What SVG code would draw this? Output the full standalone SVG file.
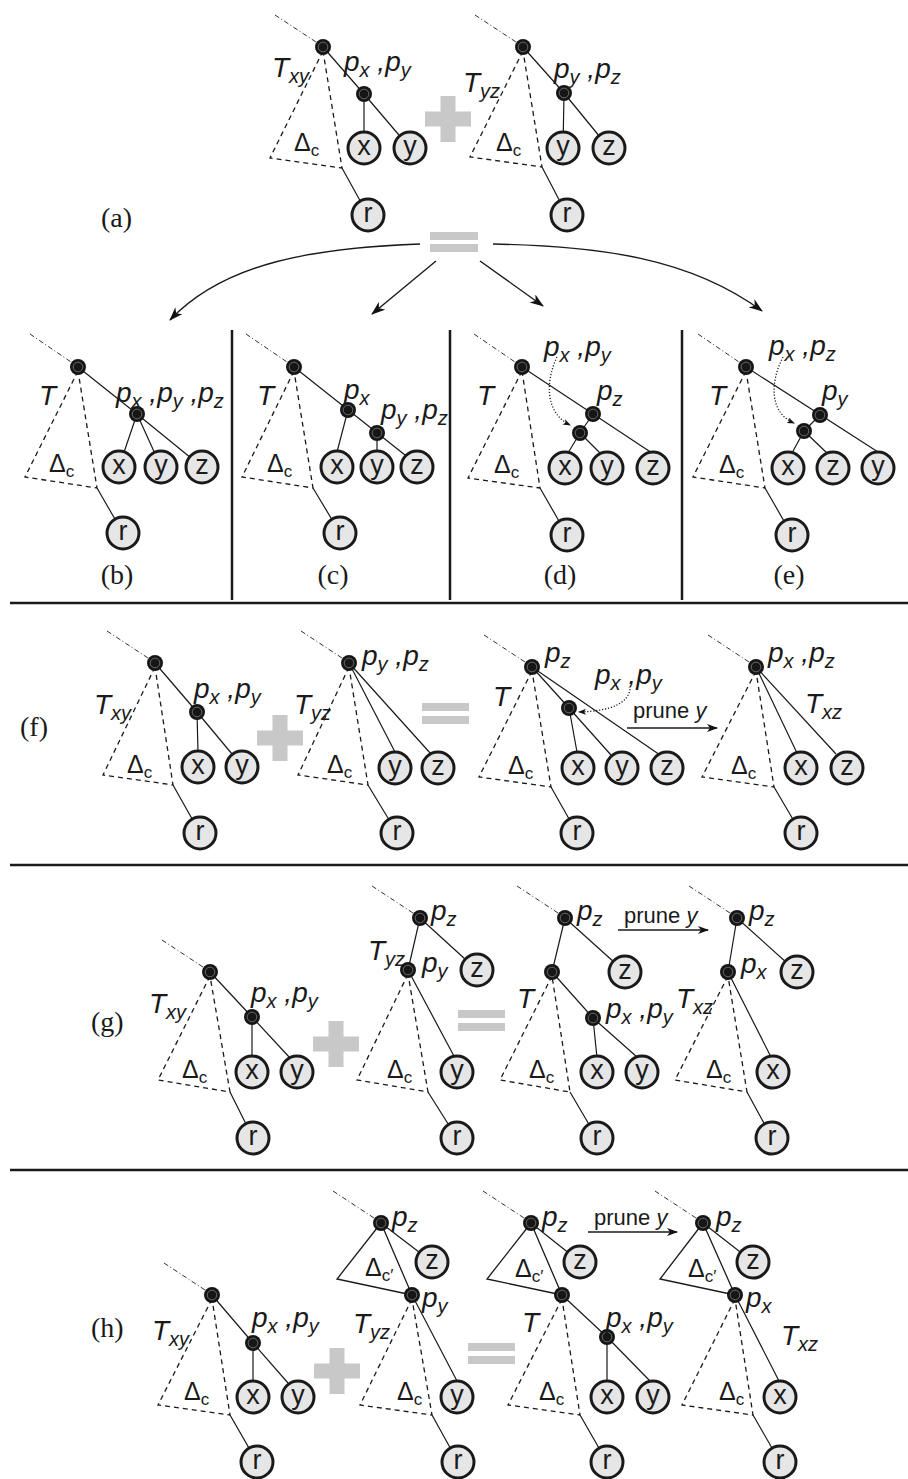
<svg xmlns="http://www.w3.org/2000/svg" xmlns:xlink="http://www.w3.org/1999/xlink" width="908" height="1479" viewBox="0 0 908 1479">
<style>
.leaf circle{fill:#e6e6e6;stroke:#1a1a1a;stroke-width:3}
.leaf text{font-family:"Liberation Sans",Arial,sans-serif;font-size:27px;text-anchor:middle;fill:#1a1a1a}
.e{fill:none;stroke:#1a1a1a;stroke-width:1.2}
.ds{fill:none;stroke:#1a1a1a;stroke-width:1.3;stroke-dasharray:5 4}
.dd{fill:none;stroke:#1a1a1a;stroke-width:0.9;stroke-dasharray:5 2.5 1 2.5}
.dt{fill:none;stroke:#1a1a1a;stroke-width:1.3;stroke-dasharray:1.2 1.8}
.tri{fill:none;stroke:#1a1a1a;stroke-width:1.3}
.ar{fill:none;stroke:#1a1a1a;stroke-width:1.4}
.sep{stroke:#1a1a1a;stroke-width:2.5;fill:none}
.op{fill:#c8c8c8}
.it{font-family:"Liberation Sans",Arial,sans-serif;font-style:italic;font-size:28px;fill:#1a1a1a}
.s{font-size:20px}
.dl{font-family:"Liberation Sans",Arial,sans-serif;font-size:25px;fill:#1a1a1a}
.dc{font-size:17px}
.pl{font-family:"Liberation Serif","Times New Roman",serif;font-size:28px;fill:#1a1a1a}
.plc{text-anchor:middle}
.pr{font-family:"Liberation Sans",Arial,sans-serif;font-size:22px;fill:#1a1a1a}
</style>
<defs>
<marker id="ah" markerUnits="userSpaceOnUse" viewBox="0 0 14 10" markerWidth="14" markerHeight="10" refX="13" refY="5" orient="auto"><path d="M0,0 L14,5 L0,10 L4,5 Z" fill="#111"/></marker>
<marker id="ahs" markerUnits="userSpaceOnUse" viewBox="0 0 11 8" markerWidth="11" markerHeight="8" refX="10" refY="4" orient="auto"><path d="M0,0 L11,4 L0,8 L3,4 Z" fill="#111"/></marker>
<marker id="ahd" markerUnits="userSpaceOnUse" viewBox="0 0 8 6" markerWidth="8" markerHeight="6" refX="7" refY="3" orient="auto"><path d="M0,0 L8,3 L0,6 L2,3 Z" fill="#111"/></marker>
<g id="bn"><circle r="8" fill="#161616"/><circle r="4.8" fill="none" stroke="#8a8a8a" stroke-width="0.7"/></g>
</defs>
<rect width="908" height="1479" fill="#ffffff"/>

<g id="separators">
<path class="sep" d="M232,330 V600 M450,330 V600 M682,330 V600 M10,603 H908 M10,865 H908 M10,1170 H908"/>
</g>

<g id="connectors">
<!-- a1 -->
<path class="dd" d="M275,15 L316,42"/>
<path class="e" d="M323,47 L364,94 M364,94 L364,148 M364,94 L410,148 M342,168 L368,215"/>
<path class="ds" d="M323,51 L270,158 L342,168 Z"/>
<!-- a2 -->
<path class="dd" d="M475,15 L516,42"/>
<path class="e" d="M523,47 L564,93 M564,93 L563,148 M564,93 L609,148 M542,167 L567,215"/>
<path class="ds" d="M523,51 L470,157 L542,167 Z"/>
<!-- a arrows -->
<path class="ar" marker-end="url(#ah)" d="M420,244 C315,248 225,262 170,320"/>
<path class="ar" marker-end="url(#ah)" d="M436,261 L372,314"/>
<path class="ar" marker-end="url(#ah)" d="M480,261 L543,306"/>
<path class="ar" marker-end="url(#ah)" d="M493,244 C600,246 690,258 762,311"/>
<!-- b -->
<path class="dd" d="M30,334 L71,362"/>
<path class="e" d="M78,367 L137,414 M137,414 L119,467 M137,414 L161,467 M137,414 L202,467 M97,488 L123,533"/>
<path class="ds" d="M78,371 L25,477 L97,488 Z"/>
<!-- c -->
<path class="dd" d="M246,334 L287,362"/>
<path class="e" d="M294,367 L405,455 M348,410 L337,452 M377,433 L377,452 M313,488 L340,533"/>
<path class="ds" d="M294,371 L242,477 L313,488 Z"/>
<!-- d -->
<path class="dd" d="M474,334 L515,362"/>
<path class="e" d="M522,367 L652,453 M593,414 L580,433 M580,433 L568,453 M580,433 L600,453 M540,488 L567,535"/>
<path class="ds" d="M522,371 L468,478 L540,488 Z"/>
<path class="dt" marker-end="url(#ahd)" d="M557,357 C546,380 544,412 570,425"/>
<!-- e -->
<path class="dd" d="M698,334 L739,362"/>
<path class="e" d="M746,367 L878,452 M820,415 L804,431 M804,431 L792,453 M804,431 L828,454 M765,488 L792,535"/>
<path class="ds" d="M746,371 L693,477 L765,488 Z"/>
<path class="dt" marker-end="url(#ahd)" d="M783,357 C771,380 768,412 794,423"/>
<!-- f1 -->
<path class="dd" d="M107,631 L148,658"/>
<path class="e" d="M155,663 L197,712 M197,712 L198,752 M197,712 L232,754 M173,785 L200,833"/>
<path class="ds" d="M155,667 L103,775 L173,785 Z"/>
<!-- f2 -->
<path class="dd" d="M301,631 L342,658"/>
<path class="e" d="M349,663 L395,752 M349,663 L431,754 M368,785 L397,833"/>
<path class="ds" d="M349,667 L298,775 L368,785 Z"/>
<!-- f3 -->
<path class="dd" d="M484,635 L525,662"/>
<path class="e" d="M532,667 L569,708 M532,667 L660,755 M569,708 L577,752 M569,708 L611,755 M551,787 L577,833"/>
<path class="ds" d="M532,671 L479,777 L551,787 Z"/>
<path class="dt" marker-end="url(#ahd)" d="M630,689 C628,703 612,711 579,712"/>
<path class="ar" marker-end="url(#ahs)" d="M627,728 L717,728"/>
<!-- f4 -->
<path class="dd" d="M708,635 L749,662"/>
<path class="e" d="M756,667 L797,753 M756,667 L836,754 M774,787 L801,833"/>
<path class="ds" d="M756,671 L702,777 L774,787 Z"/>
<!-- g1 -->
<path class="dd" d="M162,940 L203,967"/>
<path class="e" d="M210,972 L252,1017 M252,1017 L252,1057 M252,1017 L290,1058 M230,1092 L253,1138"/>
<path class="ds" d="M210,976 L158,1080 L230,1092 Z"/>
<!-- g2 -->
<path class="dd" d="M372,886 L413,913"/>
<path class="e" d="M420,918 L477,970 M420,918 L408,970 M408,970 L455,1058 M428,1092 L457,1138"/>
<path class="ds" d="M408,974 L357,1080 L428,1092 Z"/>
<!-- g3 -->
<path class="dd" d="M517,886 L558,913"/>
<path class="e" d="M565,918 L625,972 M565,918 L552,972 M552,972 L593,1018 M593,1018 L597,1058 M593,1018 L637,1057 M570,1092 L597,1138"/>
<path class="ds" d="M552,976 L500,1080 L570,1092 Z"/>
<path class="ar" marker-end="url(#ahs)" d="M618,930 L708,930"/>
<!-- g4 -->
<path class="dd" d="M689,886 L730,913"/>
<path class="e" d="M737,918 L797,972 M737,918 L728,972 M728,972 L771,1057 M747,1092 L772,1138"/>
<path class="ds" d="M728,976 L675,1080 L747,1092 Z"/>
<!-- h1 -->
<path class="dd" d="M164,1263 L205,1290"/>
<path class="e" d="M212,1295 L253,1343 M253,1343 L253,1381 M253,1343 L288,1383 M230,1415 L257,1462"/>
<path class="ds" d="M212,1299 L158,1405 L230,1415 Z"/>
<!-- h2 -->
<path class="dd" d="M333,1191 L374,1218"/>
<path class="e" d="M381,1223 L432,1262 M412,1295 L457,1381 M432,1415 L458,1462"/>
<path class="tri" d="M381,1223 L337,1279 L412,1295 Z"/>
<path class="ds" d="M412,1299 L360,1405 L432,1415 Z"/>
<!-- h3 -->
<path class="dd" d="M483,1191 L524,1218"/>
<path class="e" d="M531,1223 L580,1262 M562,1295 L607,1337 M607,1337 L607,1381 M607,1337 L650,1381 M580,1415 L607,1462"/>
<path class="tri" d="M531,1223 L487,1279 L562,1295 Z"/>
<path class="ds" d="M562,1299 L508,1405 L580,1415 Z"/>
<path class="ar" marker-end="url(#ahs)" d="M588,1232 L677,1232"/>
<!-- h4 -->
<path class="dd" d="M655,1191 L696,1218"/>
<path class="e" d="M703,1223 L753,1262 M735,1295 L779,1381 M753,1415 L780,1462"/>
<path class="tri" d="M703,1223 L660,1279 L735,1295 Z"/>
<path class="ds" d="M735,1299 L682,1405 L753,1415 Z"/>
</g>

<g id="operators">
<g id="plus-a" class="op"><rect x="440.5" y="96" width="15" height="46"/><rect x="425" y="111.5" width="46" height="15"/></g>
<g id="eq-a" class="op"><rect x="430" y="232" width="48" height="8"/><rect x="430" y="244" width="48" height="8"/></g>
<g id="plus-f" class="op"><rect x="272.5" y="715" width="15" height="46"/><rect x="257" y="730.5" width="46" height="15"/></g>
<g id="eq-f" class="op"><rect x="422" y="703" width="47" height="8"/><rect x="422" y="716" width="47" height="8"/></g>
<g id="plus-g" class="op"><rect x="328.5" y="1021" width="15" height="46"/><rect x="313" y="1036.5" width="46" height="15"/></g>
<g id="eq-g" class="op"><rect x="458" y="1010" width="47" height="8"/><rect x="458" y="1023" width="47" height="8"/></g>
<g id="plus-h" class="op"><rect x="329.5" y="1348" width="15" height="46"/><rect x="314" y="1363.5" width="46" height="15"/></g>
<g id="eq-h" class="op"><rect x="468" y="1343" width="47" height="8"/><rect x="468" y="1356" width="47" height="8"/></g>
</g>

<!-- ===== panel a ===== -->
<g id="panel-a">
<g id="a1-root"><use xlink:href="#bn" x="323" y="47"/></g>
<g id="a1-pxy"><use xlink:href="#bn" x="364" y="94"/></g>
<g id="a1-x" class="leaf"><circle cx="364" cy="148" r="16"/><text x="364" y="155">x</text></g>
<g id="a1-y" class="leaf"><circle cx="410" cy="148" r="16"/><text x="410" y="155">y</text></g>
<g id="a1-r" class="leaf"><circle cx="368" cy="215" r="16"/><text x="368" y="222">r</text></g>
<g id="a2-root"><use xlink:href="#bn" x="523" y="47"/></g>
<g id="a2-pyz"><use xlink:href="#bn" x="564" y="93"/></g>
<g id="a2-y" class="leaf"><circle cx="563" cy="148" r="16"/><text x="563" y="155">y</text></g>
<g id="a2-z" class="leaf"><circle cx="609" cy="148" r="16"/><text x="609" y="155">z</text></g>
<g id="a2-r" class="leaf"><circle cx="567" cy="215" r="16"/><text x="567" y="222">r</text></g>
<text class="it" x="272" y="77">T<tspan class="s" dy="6">xy</tspan></text>
<text class="it" x="344" y="71">p<tspan class="s" dy="6">x</tspan><tspan dy="-6"> ,p</tspan><tspan class="s" dy="6">y</tspan></text>
<text class="it" x="463" y="92">T<tspan class="s" dy="6">yz</tspan></text>
<text class="it" x="554" y="78">p<tspan class="s" dy="6">y</tspan><tspan dy="-6"> ,p</tspan><tspan class="s" dy="6">z</tspan></text>
<text class="dl" x="294" y="151">Δ<tspan class="dc" dy="5">c</tspan></text>
<text class="dl" x="496" y="151">Δ<tspan class="dc" dy="5">c</tspan></text>
<text class="pl" x="101" y="227">(a)</text>
</g>

<!-- ===== panel b ===== -->
<g id="panel-b">
<g id="b-root"><use xlink:href="#bn" x="78" y="367"/></g>
<g id="b-pxyz"><use xlink:href="#bn" x="137" y="414"/></g>
<g id="b-x" class="leaf"><circle cx="119" cy="467" r="16"/><text x="119" y="474">x</text></g>
<g id="b-y" class="leaf"><circle cx="161" cy="467" r="16"/><text x="161" y="474">y</text></g>
<g id="b-z" class="leaf"><circle cx="202" cy="467" r="16"/><text x="202" y="474">z</text></g>
<g id="b-r" class="leaf"><circle cx="123" cy="533" r="16"/><text x="123" y="540">r</text></g>
<text class="it" x="39" y="405">T</text>
<text class="it" x="116" y="402">p<tspan class="s" dy="6">x</tspan><tspan dy="-6"> ,p</tspan><tspan class="s" dy="6">y</tspan><tspan dy="-6"> ,p</tspan><tspan class="s" dy="6">z</tspan></text>
<text class="dl" x="49" y="472">Δ<tspan class="dc" dy="5">c</tspan></text>
<text class="pl plc" x="117" y="584">(b)</text>
</g>

<!-- ===== panel c ===== -->
<g id="panel-c">
<g id="c-root"><use xlink:href="#bn" x="294" y="367"/></g>
<g id="c-px"><use xlink:href="#bn" x="348" y="410"/></g>
<g id="c-pyz"><use xlink:href="#bn" x="377" y="433"/></g>
<g id="c-x" class="leaf"><circle cx="337" cy="467" r="16"/><text x="337" y="474">x</text></g>
<g id="c-y" class="leaf"><circle cx="377" cy="467" r="16"/><text x="377" y="474">y</text></g>
<g id="c-z" class="leaf"><circle cx="417" cy="467" r="16"/><text x="417" y="474">z</text></g>
<g id="c-r" class="leaf"><circle cx="340" cy="533" r="16"/><text x="340" y="540">r</text></g>
<text class="it" x="257" y="405">T</text>
<text class="it" x="344" y="399">p<tspan class="s" dy="6">x</tspan></text>
<text class="it" x="381" y="419">p<tspan class="s" dy="6">y</tspan><tspan dy="-6"> ,p</tspan><tspan class="s" dy="6">z</tspan></text>
<text class="dl" x="267" y="472">Δ<tspan class="dc" dy="5">c</tspan></text>
<text class="pl plc" x="333" y="584">(c)</text>
</g>

<!-- ===== panel d ===== -->
<g id="panel-d">
<g id="d-root"><use xlink:href="#bn" x="522" y="367"/></g>
<g id="d-pz"><use xlink:href="#bn" x="593" y="414"/></g>
<g id="d-pxy"><use xlink:href="#bn" x="580" y="433"/></g>
<g id="d-x" class="leaf"><circle cx="565" cy="468" r="16"/><text x="565" y="475">x</text></g>
<g id="d-y" class="leaf"><circle cx="607" cy="468" r="16"/><text x="607" y="475">y</text></g>
<g id="d-z" class="leaf"><circle cx="653" cy="468" r="16"/><text x="653" y="475">z</text></g>
<g id="d-r" class="leaf"><circle cx="567" cy="535" r="16"/><text x="567" y="542">r</text></g>
<text class="it" x="477" y="405">T</text>
<text class="it" x="544" y="356">p<tspan class="s" dy="6">x</tspan><tspan dy="-6"> ,p</tspan><tspan class="s" dy="6">y</tspan></text>
<text class="it" x="597" y="400">p<tspan class="s" dy="6">z</tspan></text>
<text class="dl" x="494" y="473">Δ<tspan class="dc" dy="5">c</tspan></text>
<text class="pl plc" x="560" y="584">(d)</text>
</g>

<!-- ===== panel e ===== -->
<g id="panel-e">
<g id="e-root"><use xlink:href="#bn" x="746" y="367"/></g>
<g id="e-py"><use xlink:href="#bn" x="820" y="415"/></g>
<g id="e-pxz"><use xlink:href="#bn" x="804" y="431"/></g>
<g id="e-x" class="leaf"><circle cx="788" cy="468" r="16"/><text x="788" y="475">x</text></g>
<g id="e-z" class="leaf"><circle cx="833" cy="468" r="16"/><text x="833" y="475">z</text></g>
<g id="e-y" class="leaf"><circle cx="878" cy="468" r="16"/><text x="878" y="475">y</text></g>
<g id="e-r" class="leaf"><circle cx="792" cy="535" r="16"/><text x="792" y="542">r</text></g>
<text class="it" x="709" y="405">T</text>
<text class="it" x="769" y="355">p<tspan class="s" dy="6">x</tspan><tspan dy="-6"> ,p</tspan><tspan class="s" dy="6">z</tspan></text>
<text class="it" x="822" y="400">p<tspan class="s" dy="6">y</tspan></text>
<text class="dl" x="719" y="473">Δ<tspan class="dc" dy="5">c</tspan></text>
<text class="pl plc" x="789" y="584">(e)</text>
</g>

<!-- ===== panel f ===== -->
<g id="panel-f">
<text class="pl" x="20" y="736">(f)</text>
<g id="f1-root"><use xlink:href="#bn" x="155" y="663"/></g>
<g id="f1-pxy"><use xlink:href="#bn" x="197" y="712"/></g>
<g id="f1-x" class="leaf"><circle cx="198" cy="767" r="16"/><text x="198" y="774">x</text></g>
<g id="f1-y" class="leaf"><circle cx="242" cy="767" r="16"/><text x="242" y="774">y</text></g>
<g id="f1-r" class="leaf"><circle cx="200" cy="833" r="16"/><text x="200" y="840">r</text></g>
<text class="it" x="94" y="714">T<tspan class="s" dy="6">xy</tspan></text>
<text class="it" x="194" y="698">p<tspan class="s" dy="6">x</tspan><tspan dy="-6"> ,p</tspan><tspan class="s" dy="6">y</tspan></text>
<text class="dl" x="127" y="773">Δ<tspan class="dc" dy="5">c</tspan></text>

<g id="f2-root"><use xlink:href="#bn" x="349" y="663"/></g>
<g id="f2-y" class="leaf"><circle cx="395" cy="768" r="16"/><text x="395" y="775">y</text></g>
<g id="f2-z" class="leaf"><circle cx="438" cy="768" r="16"/><text x="438" y="775">z</text></g>
<g id="f2-r" class="leaf"><circle cx="397" cy="833" r="16"/><text x="397" y="840">r</text></g>
<text class="it" x="294" y="714">T<tspan class="s" dy="6">yz</tspan></text>
<text class="it" x="362" y="665">p<tspan class="s" dy="6">y</tspan><tspan dy="-6"> ,p</tspan><tspan class="s" dy="6">z</tspan></text>
<text class="dl" x="327" y="773">Δ<tspan class="dc" dy="5">c</tspan></text>

<g id="f3-root"><use xlink:href="#bn" x="532" y="667"/></g>
<g id="f3-pxy"><use xlink:href="#bn" x="569" y="708"/></g>
<g id="f3-x" class="leaf"><circle cx="578" cy="768" r="16"/><text x="578" y="775">x</text></g>
<g id="f3-y" class="leaf"><circle cx="622" cy="768" r="16"/><text x="622" y="775">y</text></g>
<g id="f3-z" class="leaf"><circle cx="667" cy="768" r="16"/><text x="667" y="775">z</text></g>
<g id="f3-r" class="leaf"><circle cx="577" cy="833" r="16"/><text x="577" y="840">r</text></g>
<text class="it" x="493" y="706">T</text>
<text class="it" x="545" y="662">p<tspan class="s" dy="6">z</tspan></text>
<text class="it" x="595" y="684">p<tspan class="s" dy="6">x</tspan><tspan dy="-6"> ,p</tspan><tspan class="s" dy="6">y</tspan></text>
<text class="dl" x="508" y="774">Δ<tspan class="dc" dy="5">c</tspan></text>
<text class="pr" x="633" y="718">prune <tspan font-style="italic">y</tspan></text>

<g id="f4-root"><use xlink:href="#bn" x="756" y="667"/></g>
<g id="f4-x" class="leaf"><circle cx="801" cy="768" r="16"/><text x="801" y="775">x</text></g>
<g id="f4-z" class="leaf"><circle cx="847" cy="768" r="16"/><text x="847" y="775">z</text></g>
<g id="f4-r" class="leaf"><circle cx="801" cy="833" r="16"/><text x="801" y="840">r</text></g>
<text class="it" x="768" y="662">p<tspan class="s" dy="6">x</tspan><tspan dy="-6"> ,p</tspan><tspan class="s" dy="6">z</tspan></text>
<text class="it" x="805" y="713">T<tspan class="s" dy="6">xz</tspan></text>
<text class="dl" x="731" y="774">Δ<tspan class="dc" dy="5">c</tspan></text>
</g>

<!-- ===== panel g ===== -->
<g id="panel-g">
<text class="pl" x="91" y="1031">(g)</text>
<g id="g1-root"><use xlink:href="#bn" x="210" y="972"/></g>
<g id="g1-pxy"><use xlink:href="#bn" x="252" y="1017"/></g>
<g id="g1-x" class="leaf"><circle cx="252" cy="1072" r="16"/><text x="252" y="1079">x</text></g>
<g id="g1-y" class="leaf"><circle cx="297" cy="1072" r="16"/><text x="297" y="1079">y</text></g>
<g id="g1-r" class="leaf"><circle cx="253" cy="1138" r="16"/><text x="253" y="1145">r</text></g>
<text class="it" x="149" y="1013">T<tspan class="s" dy="6">xy</tspan></text>
<text class="it" x="251" y="1002">p<tspan class="s" dy="6">x</tspan><tspan dy="-6"> ,p</tspan><tspan class="s" dy="6">y</tspan></text>
<text class="dl" x="182" y="1078">Δ<tspan class="dc" dy="5">c</tspan></text>

<g id="g2-pz"><use xlink:href="#bn" x="420" y="918"/></g>
<g id="g2-py"><use xlink:href="#bn" x="408" y="970"/></g>
<g id="g2-z" class="leaf"><circle cx="477" cy="970" r="16"/><text x="477" y="977">z</text></g>
<g id="g2-y" class="leaf"><circle cx="457" cy="1072" r="16"/><text x="457" y="1079">y</text></g>
<g id="g2-r" class="leaf"><circle cx="457" cy="1138" r="16"/><text x="457" y="1145">r</text></g>
<text class="it" x="431" y="920">p<tspan class="s" dy="6">z</tspan></text>
<text class="it" x="422" y="972">p<tspan class="s" dy="6">y</tspan></text>
<text class="it" x="368" y="960">T<tspan class="s" dy="6">yz</tspan></text>
<text class="dl" x="387" y="1078">Δ<tspan class="dc" dy="5">c</tspan></text>

<g id="g3-pz"><use xlink:href="#bn" x="565" y="918"/></g>
<g id="g3-n"><use xlink:href="#bn" x="552" y="972"/></g>
<g id="g3-pxy"><use xlink:href="#bn" x="593" y="1018"/></g>
<g id="g3-z" class="leaf"><circle cx="625" cy="972" r="16"/><text x="625" y="979">z</text></g>
<g id="g3-x" class="leaf"><circle cx="597" cy="1072" r="16"/><text x="597" y="1079">x</text></g>
<g id="g3-y" class="leaf"><circle cx="642" cy="1072" r="16"/><text x="642" y="1079">y</text></g>
<g id="g3-r" class="leaf"><circle cx="597" cy="1138" r="16"/><text x="597" y="1145">r</text></g>
<text class="it" x="577" y="920">p<tspan class="s" dy="6">z</tspan></text>
<text class="it" x="517" y="1008">T</text>
<text class="it" x="606" y="1018">p<tspan class="s" dy="6">x</tspan><tspan dy="-6"> ,p</tspan><tspan class="s" dy="6">y</tspan></text>
<text class="dl" x="529" y="1078">Δ<tspan class="dc" dy="5">c</tspan></text>
<text class="pr" x="624" y="923">prune <tspan font-style="italic">y</tspan></text>

<g id="g4-pz"><use xlink:href="#bn" x="737" y="918"/></g>
<g id="g4-px"><use xlink:href="#bn" x="728" y="972"/></g>
<g id="g4-z" class="leaf"><circle cx="797" cy="972" r="16"/><text x="797" y="979">z</text></g>
<g id="g4-x" class="leaf"><circle cx="773" cy="1072" r="16"/><text x="773" y="1079">x</text></g>
<g id="g4-r" class="leaf"><circle cx="772" cy="1138" r="16"/><text x="772" y="1145">r</text></g>
<text class="it" x="749" y="920">p<tspan class="s" dy="6">z</tspan></text>
<text class="it" x="741" y="973">p<tspan class="s" dy="6">x</tspan></text>
<text class="it" x="676" y="1008">T<tspan class="s" dy="6">xz</tspan></text>
<text class="dl" x="706" y="1078">Δ<tspan class="dc" dy="5">c</tspan></text>
</g>

<!-- ===== panel h ===== -->
<g id="panel-h">
<text class="pl" x="91" y="1337">(h)</text>
<g id="h1-root"><use xlink:href="#bn" x="212" y="1295"/></g>
<g id="h1-pxy"><use xlink:href="#bn" x="253" y="1343"/></g>
<g id="h1-x" class="leaf"><circle cx="253" cy="1397" r="16"/><text x="253" y="1404">x</text></g>
<g id="h1-y" class="leaf"><circle cx="298" cy="1397" r="16"/><text x="298" y="1404">y</text></g>
<g id="h1-r" class="leaf"><circle cx="257" cy="1462" r="16"/><text x="257" y="1469">r</text></g>
<text class="it" x="152" y="1340">T<tspan class="s" dy="6">xy</tspan></text>
<text class="it" x="252" y="1327">p<tspan class="s" dy="6">x</tspan><tspan dy="-6"> ,p</tspan><tspan class="s" dy="6">y</tspan></text>
<text class="dl" x="184" y="1400">Δ<tspan class="dc" dy="5">c</tspan></text>

<g id="h2-pz"><use xlink:href="#bn" x="381" y="1223"/></g>
<g id="h2-py"><use xlink:href="#bn" x="412" y="1295"/></g>
<g id="h2-z" class="leaf"><circle cx="432" cy="1262" r="16"/><text x="432" y="1269">z</text></g>
<g id="h2-y" class="leaf"><circle cx="457" cy="1397" r="16"/><text x="457" y="1404">y</text></g>
<g id="h2-r" class="leaf"><circle cx="458" cy="1462" r="16"/><text x="458" y="1469">r</text></g>
<text class="it" x="392" y="1226">p<tspan class="s" dy="6">z</tspan></text>
<text class="dl" x="365" y="1276">Δ<tspan class="dc" dy="5">c′</tspan></text>
<text class="it" x="422" y="1307">p<tspan class="s" dy="6">y</tspan></text>
<text class="it" x="353" y="1333">T<tspan class="s" dy="6">yz</tspan></text>
<text class="dl" x="397" y="1400">Δ<tspan class="dc" dy="5">c</tspan></text>

<g id="h3-pz"><use xlink:href="#bn" x="531" y="1223"/></g>
<g id="h3-n"><use xlink:href="#bn" x="562" y="1295"/></g>
<g id="h3-pxy"><use xlink:href="#bn" x="607" y="1337"/></g>
<g id="h3-z" class="leaf"><circle cx="580" cy="1262" r="16"/><text x="580" y="1269">z</text></g>
<g id="h3-x" class="leaf"><circle cx="607" cy="1397" r="16"/><text x="607" y="1404">x</text></g>
<g id="h3-y" class="leaf"><circle cx="653" cy="1397" r="16"/><text x="653" y="1404">y</text></g>
<g id="h3-r" class="leaf"><circle cx="607" cy="1462" r="16"/><text x="607" y="1469">r</text></g>
<text class="it" x="542" y="1226">p<tspan class="s" dy="6">z</tspan></text>
<text class="dl" x="515" y="1277">Δ<tspan class="dc" dy="5">c′</tspan></text>
<text class="it" x="606" y="1327">p<tspan class="s" dy="6">x</tspan><tspan dy="-6"> ,p</tspan><tspan class="s" dy="6">y</tspan></text>
<text class="it" x="522" y="1332">T</text>
<text class="dl" x="539" y="1400">Δ<tspan class="dc" dy="5">c</tspan></text>
<text class="pr" x="594" y="1225">prune <tspan font-style="italic">y</tspan></text>

<g id="h4-pz"><use xlink:href="#bn" x="703" y="1223"/></g>
<g id="h4-px"><use xlink:href="#bn" x="735" y="1295"/></g>
<g id="h4-z" class="leaf"><circle cx="753" cy="1262" r="16"/><text x="753" y="1269">z</text></g>
<g id="h4-x" class="leaf"><circle cx="780" cy="1397" r="16"/><text x="780" y="1404">x</text></g>
<g id="h4-r" class="leaf"><circle cx="780" cy="1462" r="16"/><text x="780" y="1469">r</text></g>
<text class="it" x="716" y="1226">p<tspan class="s" dy="6">z</tspan></text>
<text class="dl" x="688" y="1277">Δ<tspan class="dc" dy="5">c′</tspan></text>
<text class="it" x="746" y="1307">p<tspan class="s" dy="6">x</tspan></text>
<text class="it" x="781" y="1345">T<tspan class="s" dy="6">xz</tspan></text>
<text class="dl" x="719" y="1400">Δ<tspan class="dc" dy="5">c</tspan></text>
</g>
</svg>
